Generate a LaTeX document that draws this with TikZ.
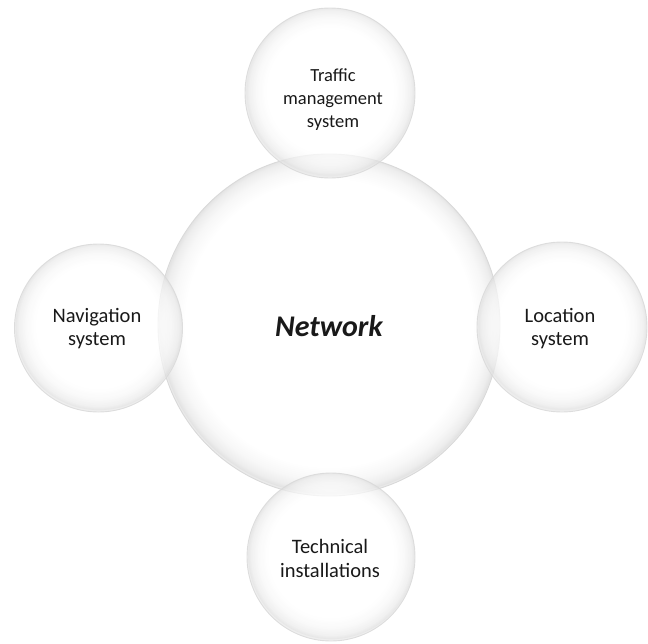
\documentclass[tikz,border=0pt]{standalone}
\usepackage{fontspec}
\setmainfont{Carlito}
\pgfdeclareradialshading{bubble}{\pgfpoint{0bp}{1bp}}{%
  color(0bp)=(white); color(18.5bp)=(white); color(21.5bp)=(black!3);
  color(23.8bp)=(black!8); color(24.7bp)=(black!13); color(25bp)=(black!9); color(50bp)=(black!9)}
\pgfdeclareradialshading{bigbubble}{\pgfpoint{0bp}{0.5bp}}{%
  color(0bp)=(white); color(21bp)=(white); color(23bp)=(black!3);
  color(24.3bp)=(black!7); color(24.85bp)=(black!11); color(25bp)=(black!8); color(50bp)=(black!8)}
\begin{document}
\begin{tikzpicture}[x=1pt,y=-1pt,
  bubblebase/.style={circle, draw=black!15, line width=0.9pt, inner sep=0pt},
  bigbub/.style={bubblebase, shading=bigbubble},
  smallbubble/.style={bubblebase, shading=bubble, fill opacity=0.72, draw opacity=0.85},
  lbl/.style={align=center, text=black!90, inner sep=0pt},
]
\useasboundingbox (0,0) rectangle (648,643);
\node[bigbub, minimum size=342pt] (net) at (329,325) {};
\node[smallbubble, minimum size=170pt] (traffic) at (330,93) {};
\node[smallbubble, minimum size=168pt] (nav) at (98.5,328) {};
\node[smallbubble, minimum size=170pt] (loc) at (562,327) {};
\node[smallbubble, minimum size=168pt] (tech) at (331,557) {};
\node[lbl, anchor=base, font=\fontsize{30}{34}\selectfont\bfseries\itshape] (nettext) at (329,336) {Network};
\node[lbl, font=\fontsize{18.5}{23}\selectfont] (traffictext) at (333,99.5) {Traffic\\management\\system};
\node[lbl, font=\fontsize{20.5}{23}\selectfont] (navtext) at (97,329) {Navigation\\system};
\node[lbl, font=\fontsize{20.5}{23}\selectfont] (loctext) at (560,329) {Location\\system};
\node[lbl, font=\fontsize{20.5}{24.5}\selectfont] (techtext) at (330,558.5) {Technical\\installations};
\end{tikzpicture}
\end{document}
